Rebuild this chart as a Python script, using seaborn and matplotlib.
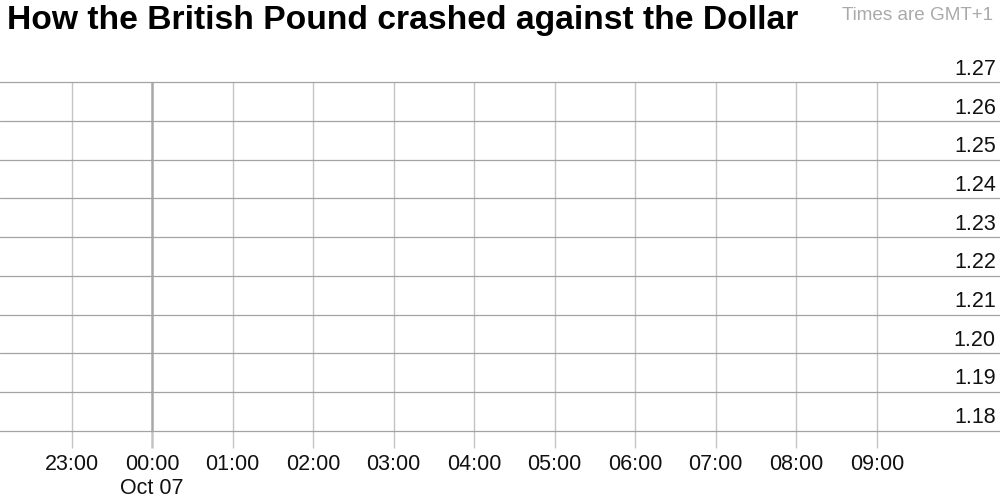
import numpy as np
import seaborn as sns
import matplotlib.pyplot as plt
from matplotlib.transforms import ScaledTranslation

# axis data (the chart shows no series, only the frame)
hour_labels = ["23:00", "00:00\nOct 07", "01:00", "02:00", "03:00", "04:00",
               "05:00", "06:00", "07:00", "08:00", "09:00"]
hour_offsets = [-1, 0, 1, 2, 3, 4, 5, 6, 7, 8, 9]
price_ticks = [1.18, 1.19, 1.20, 1.21, 1.22, 1.23, 1.24, 1.25, 1.26, 1.27]
price_labels = ["1.18", "1.19", "1.20", "1.21", "1.22", "1.23", "1.24", "1.25", "1.26", "1.27"]

sns.set_theme(style="white")
plt.rcParams["font.family"] = ["Liberation Sans", "DejaVu Sans"]

fig = plt.figure(figsize=(10, 5), dpi=100)
ax = fig.add_axes([0.0, 0.138, 1.0, 0.698])

ax.set_xlim(-1.888, 10.53)
ax.set_ylim(1.1799, 1.2701)
sns.despine(ax=ax, left=True, bottom=True)

ax.set_xticks(hour_offsets)
ax.set_xticklabels(hour_labels, fontsize=15.5, color="#111111")
ax.set_yticks(price_ticks)
ax.set_yticklabels(price_labels, fontsize=15.5, color="#111111")

# vertical gridlines + outward ticks
ax.grid(axis="x", color="#c4c4c4", linewidth=1.0)
ax.grid(axis="y", color="#a3a3a3", linewidth=0.9)
ax.tick_params(axis="x", direction="out", length=12.2, width=1.0,
               color="#c4c4c4", pad=4, bottom=True)
xticks = ax.xaxis.get_major_ticks()
midnight = hour_offsets.index(0)
xticks[midnight].gridline.set_color("#a8a8a8")
xticks[midnight].gridline.set_linewidth(1.8)
xticks[midnight].tick1line.set_color("#a8a8a8")
xticks[midnight].tick1line.set_markeredgewidth(1.8)
for t in ax.yaxis.get_major_ticks():
    t.gridline.set_clip_on(False)

# price labels sit inside the plot, just above their gridline
ax.tick_params(axis="y", left=False, right=False, labelleft=False,
               labelright=True, length=0, pad=-3)
shift = ScaledTranslation(0, 0.13, fig.dpi_scale_trans)
for lab in ax.get_yticklabels():
    lab.set_horizontalalignment("right")
    lab.set_verticalalignment("center")
    lab.set_transform(lab.get_transform() + shift)

fig.text(0.007, 0.958, "How the British Pound crashed against the Dollar",
         fontsize=24.2, fontweight="bold", color="black", ha="left", va="center")
fig.text(0.993, 0.968, "Times are GMT+1", fontsize=13.6, color="#aaaaaa",
         ha="right", va="center")

fig.savefig("out.png", dpi=100)
